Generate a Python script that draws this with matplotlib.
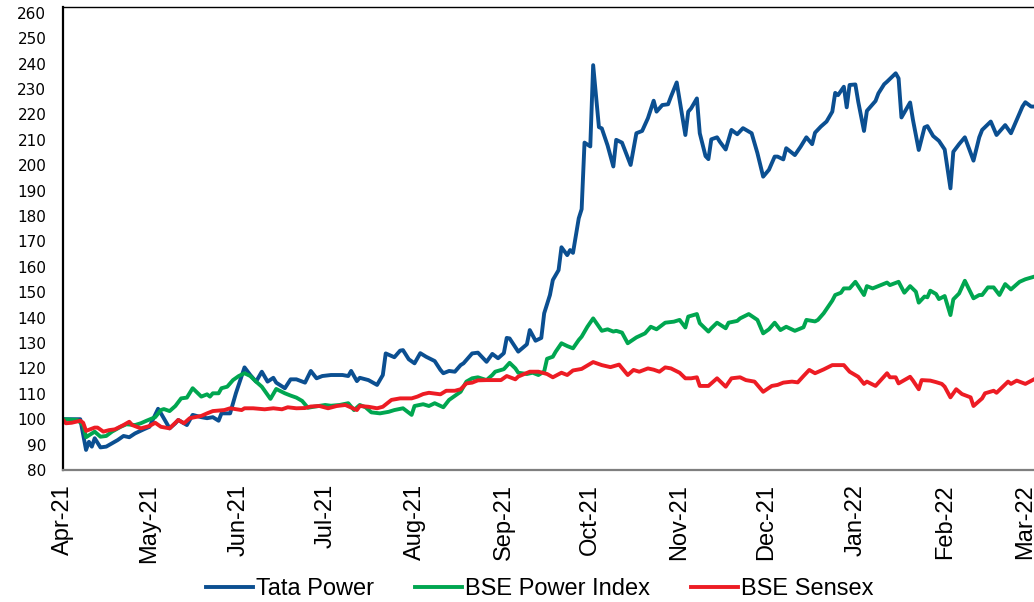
import pandas as pd
import matplotlib.pyplot as plt
import matplotlib.dates as mdates

# days since 2021-04-01 and rebased index values
tata_days = [0, 6, 8, 9, 10, 11, 13, 15, 17, 19, 21, 23, 25, 28, 30, 33, 34, 37, 39, 40,
             43, 45, 48, 50, 52, 54, 55, 58, 60, 63, 65, 67, 69, 71, 73, 74, 77, 79, 81, 84,
             86, 88, 90, 93, 97, 99, 100, 102, 103, 106, 109, 111, 112, 115, 117, 118, 120, 122, 124, 126,
             129, 131, 132, 134, 136, 138, 139, 142, 144, 147, 149, 151, 153, 154, 155, 158, 161, 162, 164, 166,
             167, 169, 170, 172, 173, 175, 176, 177, 179, 180, 181, 183, 184, 186, 187, 189, 191, 192, 194, 197,
             199, 201, 203, 205, 206, 208, 210, 211, 213, 216, 217, 218, 220, 221, 223, 224, 225, 227, 228, 230,
             232, 234, 236, 239, 241, 243, 245, 247, 248, 250, 251, 254, 256, 258, 260, 261, 263, 265, 267, 268,
             269, 271, 272, 273, 275, 276, 278, 279, 282, 283, 285, 286, 289, 290, 291, 294, 295, 297, 299, 300,
             302, 304, 306, 308, 309, 311, 313, 316, 318, 319, 322, 324, 327, 329, 331, 333, 334, 336, 337]
tata = [100, 100, 87.9, 91.1, 89.2, 92.5, 88.9, 89.2, 90.5, 91.8, 93.4, 92.9, 94.4, 96, 97, 104.1, 102.3, 96.4, 98.4, 99.7,
        97.7, 101.7, 100.8, 100.4, 100.8, 99.4, 102.3, 102.3, 110.2, 120.4, 117.4, 114.8, 118.7, 114.8, 116.3, 114.4, 112.2, 115.7, 115.7, 114.4,
        119, 116.1, 117, 117.4, 117.4, 117, 119, 115, 116.3, 115.4, 113.5, 117.4, 125.9, 124.4, 127, 127.2, 123.6, 122, 126, 124.6,
        122.9, 119.4, 118.1, 119, 118.7, 121.3, 122, 125.9, 126.2, 122.6, 125.7, 124, 126, 132, 131.8, 126.6, 129.5, 135.1, 130.9, 132,
        141.7, 148.9, 154.8, 158.7, 167.7, 164.6, 166.6, 165.5, 179.1, 182.7, 208.9, 207.4, 239.4, 215, 214.5, 207.8, 199.5, 210, 208.9, 200.1,
        212.6, 213.5, 218.5, 225.4, 221.1, 223.7, 224, 227, 232.6, 211.9, 221.1, 222.4, 226.3, 212.6, 203.6, 202.4, 210.2, 211, 209.2, 206.2,
        213.9, 212.2, 214.6, 212.6, 204.8, 195.5, 198.2, 203.4, 203.4, 202.3, 206.7, 204, 207.3, 211, 208.3, 212.8, 215.2, 217.2, 221.1, 228.5,
        227.6, 230.9, 222.8, 231.6, 231.8, 225, 213.5, 221.4, 225.3, 228.3, 231.9, 232.9, 236.2, 234.2, 218.8, 224.7, 217.8, 206, 214.9, 215.4,
        211.5, 209.6, 206.2, 190.9, 205.3, 208.3, 211, 201.8, 211, 213.9, 217.2, 211.9, 215.8, 212.6, 217.9, 223.1, 224.8, 223.1, 223.1]

power_days = [0, 5, 7, 8, 10, 11, 13, 15, 17, 20, 22, 25, 27, 29, 32, 34, 35, 37, 39, 41,
              43, 45, 48, 50, 51, 52, 54, 55, 57, 59, 61, 63, 65, 67, 69, 72, 74, 77, 79, 81,
              83, 85, 87, 91, 93, 96, 99, 101, 103, 105, 107, 110, 113, 115, 118, 121, 122, 125, 127, 129,
              132, 134, 138, 140, 142, 144, 147, 149, 150, 153, 155, 157, 158, 161, 163, 165, 167, 168, 170, 171,
              173, 175, 177, 179, 180, 182, 184, 187, 189, 191, 192, 194, 196, 199, 202, 204, 206, 209, 212, 214,
              216, 217, 220, 221, 224, 225, 227, 230, 231, 234, 235, 238, 241, 243, 245, 247, 249, 251, 254, 257,
              258, 261, 262, 264, 267, 268, 270, 271, 273, 275, 276, 278, 279, 281, 286, 287, 290, 292, 294, 296,
              297, 299, 300, 301, 303, 304, 306, 308, 309, 311, 313, 316, 318, 319, 321, 323, 325, 327, 329, 332,
              334, 337]
power = [100, 99.7, 97.7, 92.9, 94.4, 95.1, 93.1, 93.4, 95.1, 97, 98, 97.7, 98.4, 99.4, 100.8, 103.6, 104, 103.2, 105.2, 108.2,
         108.5, 112.2, 108.9, 109.8, 108.9, 110.2, 110.2, 112.2, 112.8, 115.4, 117, 118.1, 117, 114.8, 112.8, 108, 111.9, 110.2, 109.3, 108.5,
         107.2, 104.5, 104.9, 105.6, 105.3, 105.6, 106.3, 103.6, 105.6, 104.7, 102.7, 102.3, 102.9, 103.6, 104.3, 101.7, 105.2, 105.9, 105.2, 106.3,
         104.7, 107.6, 110.8, 114.8, 116.1, 116.5, 115.4, 117.4, 118.7, 119.7, 122.2, 120, 118.3, 117.8, 118.3, 117.4, 118.8, 123.8, 124.6, 126.6,
         129.9, 128.8, 127.9, 131.2, 132.5, 136.4, 139.7, 134.8, 135.4, 134.5, 134.8, 134.1, 129.9, 132.2, 133.8, 136.4, 135.4, 138, 138.4, 139.1,
         136.1, 140.4, 141.4, 137.8, 134.5, 135.8, 138, 135.8, 138, 138.7, 139.7, 141.4, 139.1, 133.8, 135.4, 138, 135.1, 136.4, 134.8, 136.2,
         139.1, 138.5, 139.1, 141.7, 146.7, 148.9, 149.8, 151.5, 151.5, 154.1, 152.4, 148.9, 152.4, 151.5, 153.8, 152.8, 154.1, 149.8, 152.4, 150.2,
         145.9, 148.3, 148, 150.6, 149.3, 147.3, 148.5, 141, 147.2, 149.5, 154.5, 147.6, 148.9, 148.9, 151.9, 151.9, 148.9, 153.2, 151.1, 154.1,
         155.1, 156.1]

sensex_days = [0, 1, 3, 6, 7, 8, 11, 12, 14, 16, 18, 21, 23, 24, 27, 30, 32, 34, 37, 40,
               42, 44, 48, 50, 52, 56, 58, 62, 63, 66, 70, 73, 76, 78, 81, 84, 86, 89, 92, 95,
               98, 102, 103, 106, 109, 111, 114, 117, 121, 123, 125, 127, 131, 133, 136, 138, 140, 142, 144, 147,
               150, 152, 154, 157, 158, 162, 165, 168, 170, 173, 175, 177, 180, 184, 187, 190, 193, 196, 198, 200,
               203, 205, 207, 209, 211, 214, 216, 218, 220, 221, 224, 227, 230, 232, 235, 237, 240, 243, 246, 248,
               250, 253, 255, 257, 259, 261, 264, 267, 271, 273, 276, 278, 279, 282, 286, 287, 289, 290, 294, 295,
               297, 298, 301, 303, 305, 306, 308, 310, 312, 315, 316, 319, 320, 323, 324, 328, 329, 331, 334, 337]
sensex = [99.7, 98.4, 98.6, 99.4, 98.6, 95.4, 96.7, 96.7, 95.1, 95.7, 96, 97.7, 99, 97.7, 96.4, 97.3, 98.6, 97, 96.4, 99.7,
          98.4, 100.4, 101.3, 102.3, 103.2, 103.6, 104.3, 103.6, 104.3, 104.3, 103.9, 104.3, 103.9, 104.7, 104.3, 104.4, 105, 105.2, 104.3, 105.2,
          105.6, 103.6, 105.2, 104.9, 104.3, 104.9, 107.6, 108.2, 108.2, 108.9, 109.9, 110.4, 109.8, 111.2, 111.2, 111.8, 114.1, 114.4, 115.3, 115.4,
          115.4, 115.4, 117, 115.7, 116.8, 118.7, 118.7, 117.8, 116.5, 118.3, 117.4, 119.2, 119.8, 122.5, 121.3, 120.5, 121.5, 117.4, 119.4, 118.7,
          120, 119.5, 118.7, 120.4, 120, 118.3, 116.1, 116.1, 116.5, 113.1, 113.1, 116.1, 112.8, 116.1, 116.5, 115.4, 114.8, 110.8, 113.1, 113.5,
          114.4, 114.8, 114.5, 117, 119.4, 118.1, 119.6, 121.3, 121.3, 118.7, 116.7, 113.9, 114.8, 113.1, 118.1, 116.5, 116.5, 114.1, 116.7, 115.2,
          111.8, 115.4, 115.2, 114.6, 113.9, 112.8, 108.6, 111.8, 109.9, 108.6, 105.2, 108.2, 110.2, 111.2, 110.4, 114.8, 113.9, 115.2, 113.9, 115.7]

start = pd.Timestamp('2021-04-01')


def to_dates(days):
    return start + pd.to_timedelta(days, unit='D')


fig = plt.figure(figsize=(10.34, 6.02), dpi=100)
ax = fig.add_axes([63 / 1034, 132 / 602, 971 / 1034, 463 / 602])

ax.plot(to_dates(tata_days), tata, color='#0B4F91', lw=2.8, label='Tata Power', solid_joinstyle='round')
ax.plot(to_dates(power_days), power, color='#00A650', lw=2.8, label='BSE Power Index', solid_joinstyle='round')
ax.plot(to_dates(sensex_days), sensex, color='#ED1C24', lw=2.8, label='BSE Sensex', solid_joinstyle='round')

ax.set_xlim(start, start + pd.Timedelta(days=337))
ax.set_ylim(80, 262.3)
ax.set_yticks(range(80, 261, 10))

ax.xaxis.set_major_locator(mdates.MonthLocator())
ax.xaxis.set_major_formatter(mdates.DateFormatter('%b-%y'))
ax.tick_params(axis='x', length=0, pad=10, labelrotation=90, labelsize=17)
ax.tick_params(axis='y', length=0, pad=12, labelsize=11)
for lbl in ax.get_xticklabels():
    lbl.set_fontfamily('Liberation Sans')
for lbl in ax.get_yticklabels():
    lbl.set_fontfamily('DejaVu Sans')

ax.spines['right'].set_visible(False)
ax.spines['left'].set_linewidth(1.6)
ax.spines['top'].set_linewidth(1.0)
ax.spines['bottom'].set_linewidth(1.6)
ax.spines['bottom'].set_color('#7f7f7f')

fig.legend(loc='lower center', bbox_to_anchor=(0.522, -0.032), ncol=3, frameon=False,
           handlelength=2.0, handletextpad=0.15, columnspacing=1.7,
           prop={'family': 'Liberation Sans', 'size': 17})

fig.savefig('out.png', dpi=100)
